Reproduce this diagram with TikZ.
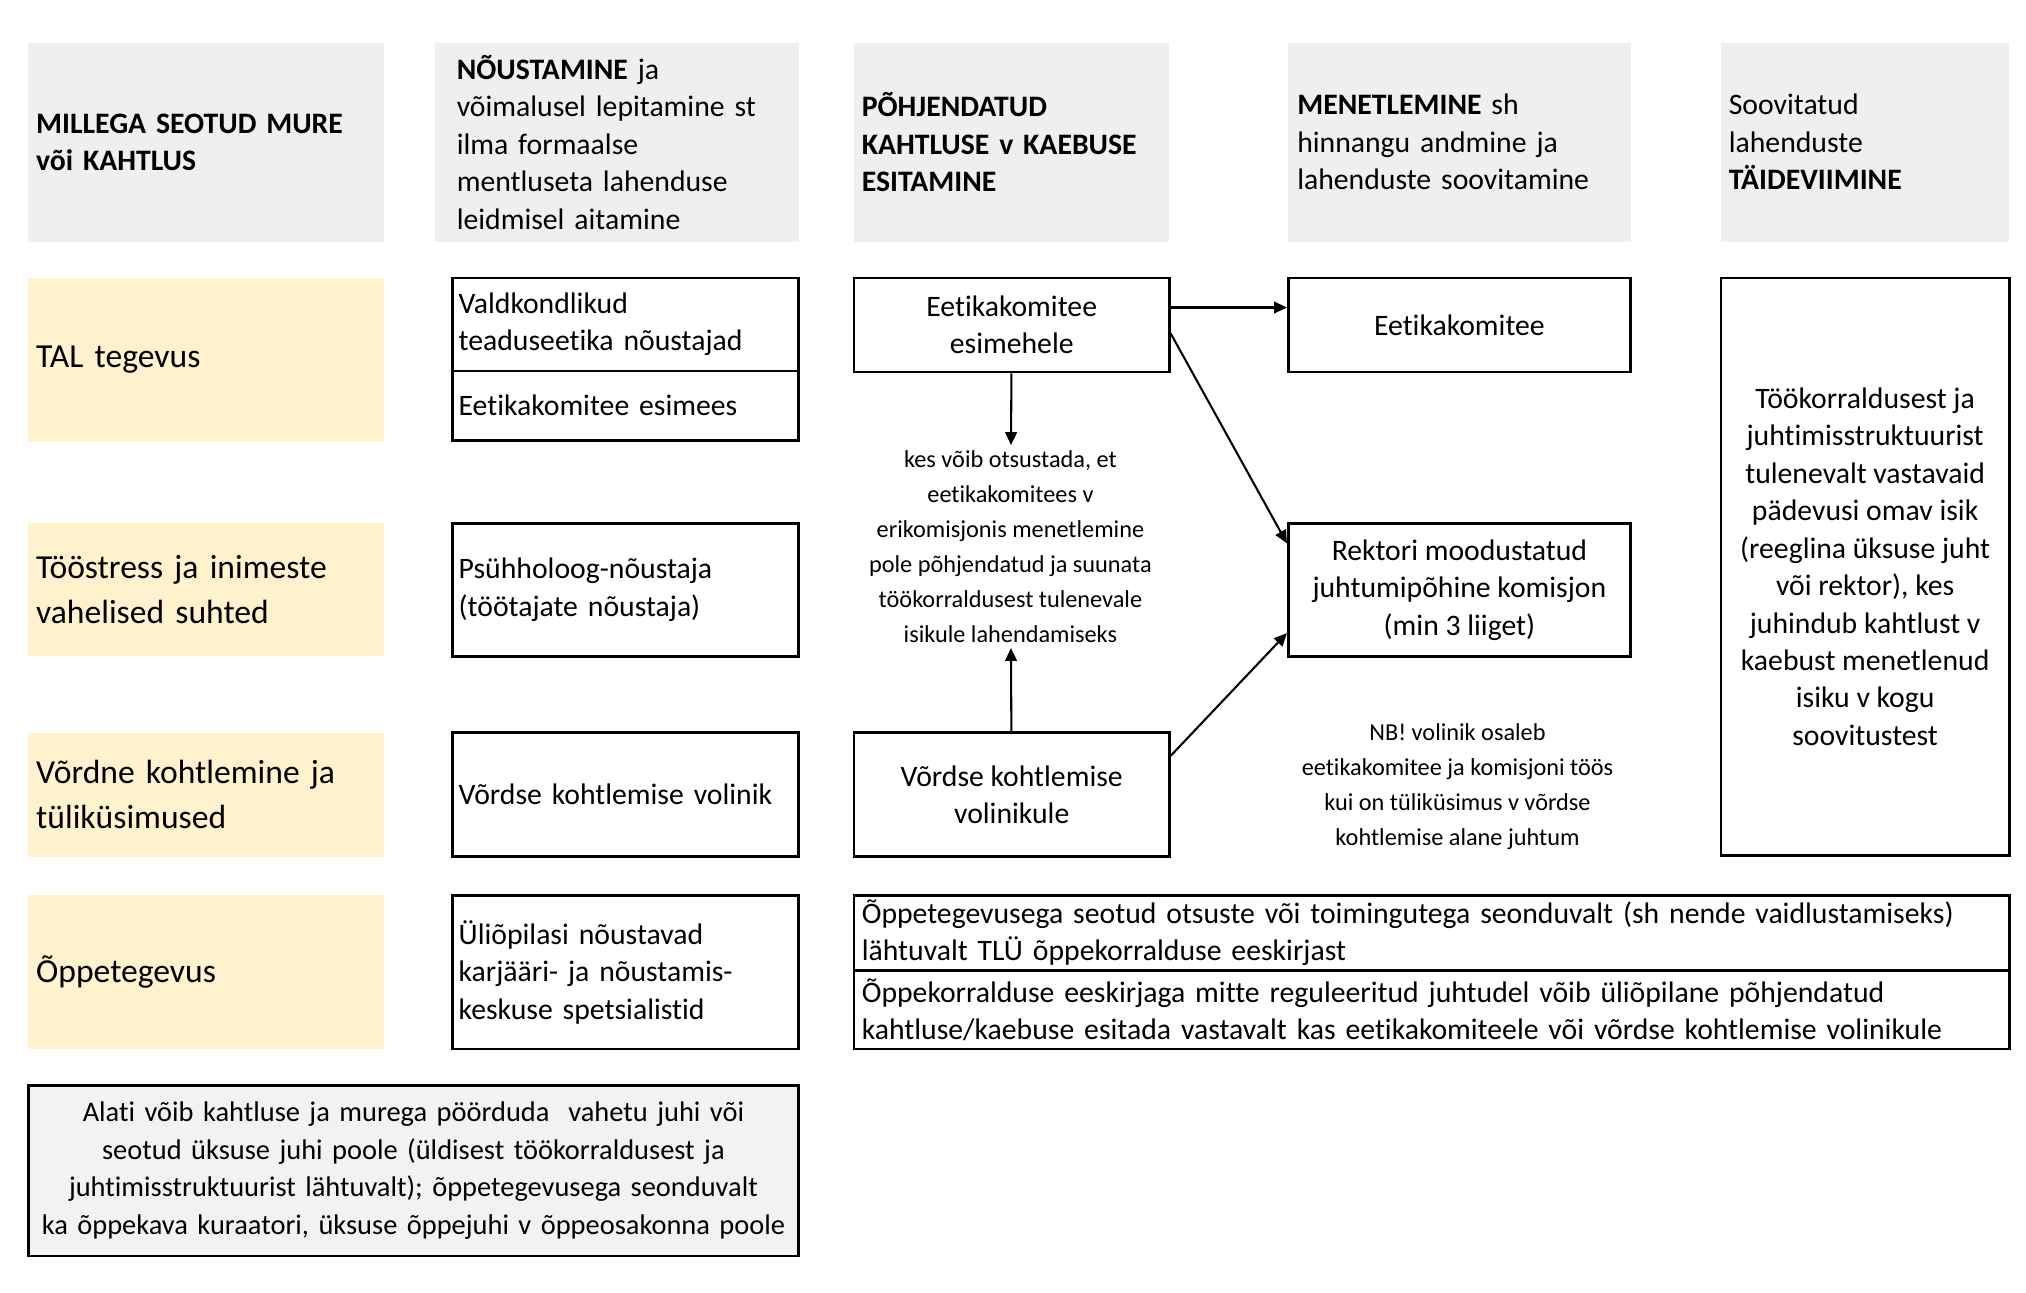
\documentclass[tikz,border=0pt]{standalone}
\usepackage{fontspec}
\setmainfont{Carlito}[Ligatures=NoCommon]
\usepackage{xcolor}
\usetikzlibrary{positioning,arrows.meta}
\definecolor{hdrgray}{HTML}{EFEFEF}
\definecolor{catyellow}{HTML}{FFF2CC}
\definecolor{notegray}{HTML}{F2F2F2}
\begin{document}
\begin{tikzpicture}[
  x=0.5pt, y=-0.5pt,
  hdr/.style={fill=hdrgray,minimum height=77pt,inner sep=0pt,align=left,font=\fontsize{11.5pt}{14.5pt}\selectfont},
  cat/.style={fill=catyellow,minimum width=137.5pt,text width=131.5pt,inner sep=0pt,align=left,font=\fontsize{13pt}{17.5pt}\selectfont},
  adv/.style={draw,line width=1pt,minimum width=134pt,text width=129pt,inner sep=0pt,align=left,font=\fontsize{11.5pt}{14.5pt}\selectfont},
  proc/.style={draw,line width=1pt,inner sep=0pt,align=center,font=\fontsize{11.5pt}{14.5pt}\selectfont},
  lbl/.style={inner sep=2pt,align=center,font=\fontsize{9.4pt}{13.5pt}\selectfont},
  arr/.style={-{Triangle[length=5pt,width=4.5pt]},line width=0.8pt},
]
\useasboundingbox (0,0) rectangle (1568,1000);

% Header row, one gray cell per column
\node[hdr,minimum width=137.5pt,text width=131.5pt] (h1) at (159.5,110) {\textbf{MILLEGA SEOTUD MURE}\\\textbf{või KAHTLUS}};
\node[hdr,minimum width=140.5pt,text width=124pt]   (h2) at (477.5,110) {\textbf{NÕUSTAMINE} ja\\võimalusel lepitamine st\\ilma formaalse\\mentluseta lahenduse\\leidmisel aitamine};
\node[hdr,minimum width=122pt,text width=116pt]     (h3) at (783,110) {\textbf{PÕHJENDATUD}\\\textbf{KAHTLUSE v KAEBUSE}\\\textbf{ESITAMINE}};
\node[hdr,minimum width=132.5pt,text width=125.5pt] (h4) at (1129.5,110) {\textbf{MENETLEMINE} sh\\hinnangu andmine ja\\lahenduste soovitamine};
\node[hdr,minimum width=111.5pt,text width=105.5pt] (h5) at (1443.5,110) {Soovitatud\\lahenduste\\\textbf{TÄIDEVIIMINE}};

% Category column (yellow)
\node[cat,minimum height=63.5pt] (tal)    at (159.5,278.5) {TAL tegevus};
\node[cat,minimum height=51.5pt] (stress) at (159.5,456.5) {Tööstress ja inimeste\\vahelised suhted};
\node[cat,minimum height=48pt]   (vord)   at (159.5,615)   {Võrdne kohtlemine ja\\tüliküsimused};
\node[cat,minimum height=59.5pt] (oppe)   at (159.5,752.5) {Õppetegevus};

% Counselling column
\node[adv,minimum height=36pt]   (valdk) at (484,251)   {Valdkondlikud\\teaduseetika nõustajad};
\node[adv,minimum height=27pt]   (ekes)  at (484,314)   {Eetikakomitee esimees};
\node[adv,minimum height=51.5pt] (psyh)  at (484,456.5) {Psühholoog-nõustaja\\(töötajate nõustaja)};
\node[adv,minimum height=48pt]   (vvol)  at (484,615)   {Võrdse kohtlemise volinik};
\node[adv,minimum height=59.5pt] (karj)  at (484,752.5) {Üliõpilasi nõustavad\\karjääri- ja nõustamis-\\keskuse spetsialistid};

% Submission column
\node[proc,minimum width=122pt,minimum height=36.5pt] (esim) at (783,251.5) {Eetikakomitee\\esimehele};
\node[lbl] (kes) at (782,423) {kes võib otsustada, et\\eetikakomitees v\\erikomisjonis menetlemine\\pole põhjendatud ja suunata\\töökorraldusest tulenevale\\isikule lahendamiseks};
\node[proc,minimum width=122pt,minimum height=48pt]   (volk) at (783,615) {Võrdse kohtlemise\\volinikule};

% Processing column
\node[proc,minimum width=132.5pt,minimum height=36.5pt] (ek)   at (1129.5,251.5) {Eetikakomitee};
\node[proc,minimum width=132.5pt,minimum height=51.5pt] (rekt) at (1129.5,456.5) {Rektori moodustatud\\juhtumipõhine komisjon\\(min 3 liiget)};
\node[lbl] (nb) at (1128,609) {NB! volinik osaleb\\eetikakomitee ja komisjoni töös\\kui on tüliküsimus v võrdse\\kohtlemise alane juhtum};

% Implementation column
\node[proc,minimum width=111.5pt,minimum height=223.5pt] (taide) at (1443.5,438.5) {Töökorraldusest ja\\juhtimisstruktuurist\\tulenevalt vastavaid\\pädevusi omav isik\\(reeglina üksuse juht\\või rektor), kes\\juhindub kahtlust v\\kaebust menetlenud\\isiku v kogu\\soovitustest};

% Study row, wide split box
\node[proc,align=left,minimum width=447pt,text width=441pt,minimum height=29pt]   (oeks) at (1108,722)   {Õppetegevusega seotud otsuste või toimingutega seonduvalt (sh nende vaidlustamiseks)\\lähtuvalt TLÜ õppekorralduse eeskirjast};
\node[proc,align=left,minimum width=447pt,text width=441pt,minimum height=30.5pt] (oreg) at (1108,781.5) {Õppekorralduse eeskirjaga mitte reguleeritud juhtudel võib üliõpilane põhjendatud\\kahtluse/kaebuse esitada vastavalt kas eetikakomiteele või võrdse kohtlemise volinikule};

% General note
\node[proc,fill=notegray,minimum width=298pt,minimum height=66pt,text width=298pt,font=\fontsize{11pt}{14.5pt}\selectfont] (alati) at (320,906) {Alati võib kahtluse ja murega pöörduda\ \ vahetu juhi või\\seotud üksuse juhi poole (üldisest töökorraldusest ja\\juhtimisstruktuurist lähtuvalt); õppetegevusega seonduvalt\\ka õppekava kuraatori, üksuse õppejuhi v õppeosakonna poole};

\draw[arr] ([yshift=6.75pt]esim.east) -- ([yshift=6.75pt]ek.west);
\draw[arr] ([yshift=-3.25pt]esim.east) -- ([yshift=18pt]rekt.west);
\draw[arr] (esim) -- (kes);
\draw[arr] (volk) -- (kes);
\draw[arr] ([yshift=15pt]volk.east) -- ([yshift=-16.75pt]rekt.west);
\end{tikzpicture}
\end{document}
